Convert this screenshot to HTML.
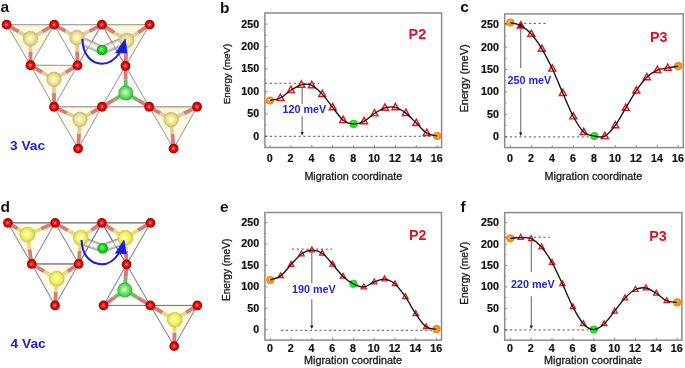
<!DOCTYPE html>
<html><head><meta charset="utf-8"><style>html,body{margin:0;padding:0;background:#fff;overflow:hidden}svg{display:block;filter:blur(0.4px)}text{font-family:"Liberation Sans",sans-serif}</style></head>
<body>
<svg width="685" height="368" viewBox="0 0 685 368">
<defs>
<radialGradient id="gRed" cx="0.5" cy="0.5" r="0.5" fx="0.47" fy="0.5"><stop offset="0" stop-color="#ffb8b0"/><stop offset="0.3" stop-color="#f02828"/><stop offset="0.72" stop-color="#d20000"/><stop offset="1" stop-color="#900000"/></radialGradient>
<radialGradient id="gYa" cx="0.5" cy="0.5" r="0.5" fx="0.47" fy="0.5"><stop offset="0" stop-color="#fffee4"/><stop offset="0.35" stop-color="#f8f0a8"/><stop offset="0.75" stop-color="#e4d688"/><stop offset="1" stop-color="#c4b266"/></radialGradient>
<radialGradient id="gYd" cx="0.5" cy="0.5" r="0.5" fx="0.45" fy="0.45"><stop offset="0" stop-color="#ffffe8"/><stop offset="0.3" stop-color="#fafa90"/><stop offset="0.72" stop-color="#ecea58"/><stop offset="1" stop-color="#c8c238"/></radialGradient>
<radialGradient id="gGb" cx="0.5" cy="0.5" r="0.5" fx="0.45" fy="0.45"><stop offset="0" stop-color="#e4ffe4"/><stop offset="0.3" stop-color="#98f098"/><stop offset="0.72" stop-color="#5ad85a"/><stop offset="1" stop-color="#34a834"/></radialGradient>
<radialGradient id="gGs" cx="0.5" cy="0.5" r="0.5" fx="0.42" fy="0.4"><stop offset="0" stop-color="#b8ffb8"/><stop offset="0.3" stop-color="#44e844"/><stop offset="0.72" stop-color="#14c814"/><stop offset="1" stop-color="#078a07"/></radialGradient>
<linearGradient id="fA" x1="0" y1="0" x2="0" y2="1"><stop offset="0" stop-color="#f9f5d8"/><stop offset="0.6" stop-color="#fcf9e6"/><stop offset="1" stop-color="#fefdf6"/></linearGradient>
<linearGradient id="fB" x1="0" y1="0" x2="0" y2="1"><stop offset="0" stop-color="#fcf9e6"/><stop offset="1" stop-color="#fffefa"/></linearGradient>
<linearGradient id="fD" x1="0" y1="0" x2="0" y2="1"><stop offset="0" stop-color="#fcfbea"/><stop offset="1" stop-color="#fffffc"/></linearGradient>
<radialGradient id="gOr" cx="0.5" cy="0.5" r="0.5" fx="0.42" fy="0.42"><stop offset="0" stop-color="#ffe0b0"/><stop offset="0.35" stop-color="#f8a030"/><stop offset="1" stop-color="#e88410"/></radialGradient>
<radialGradient id="gGr" cx="0.5" cy="0.5" r="0.5" fx="0.42" fy="0.42"><stop offset="0" stop-color="#b0ffb0"/><stop offset="0.35" stop-color="#38e838"/><stop offset="1" stop-color="#20cc20"/></radialGradient>
</defs>
<rect width="685" height="368" fill="#fff"/>
<g transform="translate(0,0.45)">
<polygon points="6.60,24.20 54.20,24.20 30.50,64.80" fill="url(#fA)" stroke="none"/>
<polygon points="54.20,24.20 101.90,24.20 77.50,65.00" fill="#fefdf8" stroke="none"/>
<polygon points="101.90,24.20 149.70,24.20 125.50,65.50" fill="url(#fA)" stroke="none"/>
<polygon points="30.50,64.80 77.50,65.00 54.00,106.30" fill="url(#fB)" stroke="none"/>
<polygon points="54.00,106.30 102.00,106.30 78.10,148.10" fill="url(#fB)" stroke="none"/>
<polygon points="149.20,106.40 197.20,106.40 173.60,148.10" fill="url(#fA)" stroke="none"/>
<polygon points="6.60,24.20 54.20,24.20 30.50,64.80" fill="none" stroke="#7a7a70" stroke-width="0.8"/>
<polygon points="54.20,24.20 101.90,24.20 77.50,65.00" fill="none" stroke="#7a7a70" stroke-width="0.8"/>
<polygon points="101.90,24.20 149.70,24.20 125.50,65.50" fill="none" stroke="#7a7a70" stroke-width="0.8"/>
<polygon points="30.50,64.80 77.50,65.00 54.00,106.30" fill="none" stroke="#7a7a70" stroke-width="0.8"/>
<polygon points="54.00,106.30 102.00,106.30 78.10,148.10" fill="none" stroke="#7a7a70" stroke-width="0.8"/>
<polygon points="125.50,65.50 102.00,106.30 149.20,106.30" fill="none" stroke="#7a7a70" stroke-width="0.8"/>
<polygon points="149.20,106.40 197.20,106.40 173.60,148.10" fill="none" stroke="#7a7a70" stroke-width="0.8"/>
<line x1="6.60" y1="24.20" x2="149.70" y2="24.20" stroke="#aaa9a2" stroke-width="0.9"/>
<line x1="30.50" y1="64.80" x2="77.50" y2="65.00" stroke="#aaa9a2" stroke-width="0.9"/>
<line x1="54.00" y1="106.30" x2="197.10" y2="106.30" stroke="#aaa9a2" stroke-width="0.9"/>
<line x1="30.40" y1="38.10" x2="18.50" y2="31.15" stroke="#dccf98" stroke-width="3.8"/>
<line x1="18.50" y1="31.15" x2="6.60" y2="24.20" stroke="#d87a7a" stroke-width="3.8"/>
<line x1="30.40" y1="38.10" x2="42.30" y2="31.15" stroke="#dccf98" stroke-width="3.8"/>
<line x1="42.30" y1="31.15" x2="54.20" y2="24.20" stroke="#d87a7a" stroke-width="3.8"/>
<line x1="30.40" y1="38.10" x2="30.45" y2="51.45" stroke="#dccf98" stroke-width="3.8"/>
<line x1="30.45" y1="51.45" x2="30.50" y2="64.80" stroke="#d87a7a" stroke-width="3.8"/>
<line x1="77.00" y1="37.20" x2="65.60" y2="30.70" stroke="#dccf98" stroke-width="3.8"/>
<line x1="65.60" y1="30.70" x2="54.20" y2="24.20" stroke="#d87a7a" stroke-width="3.8"/>
<line x1="77.00" y1="37.20" x2="89.45" y2="30.70" stroke="#dccf98" stroke-width="3.8"/>
<line x1="89.45" y1="30.70" x2="101.90" y2="24.20" stroke="#d87a7a" stroke-width="3.8"/>
<line x1="77.00" y1="37.20" x2="77.25" y2="51.10" stroke="#dccf98" stroke-width="3.8"/>
<line x1="77.25" y1="51.10" x2="77.50" y2="65.00" stroke="#d87a7a" stroke-width="3.8"/>
<line x1="126.80" y1="40.00" x2="114.35" y2="32.10" stroke="#dccf98" stroke-width="3.8"/>
<line x1="114.35" y1="32.10" x2="101.90" y2="24.20" stroke="#d87a7a" stroke-width="3.8"/>
<line x1="126.80" y1="40.00" x2="138.25" y2="32.10" stroke="#dccf98" stroke-width="3.8"/>
<line x1="138.25" y1="32.10" x2="149.70" y2="24.20" stroke="#d87a7a" stroke-width="3.8"/>
<line x1="126.80" y1="40.00" x2="126.15" y2="52.75" stroke="#dccf98" stroke-width="3.8"/>
<line x1="126.15" y1="52.75" x2="125.50" y2="65.50" stroke="#d87a7a" stroke-width="3.8"/>
<line x1="54.00" y1="79.00" x2="42.25" y2="71.90" stroke="#dccf98" stroke-width="3.8"/>
<line x1="42.25" y1="71.90" x2="30.50" y2="64.80" stroke="#d87a7a" stroke-width="3.8"/>
<line x1="54.00" y1="79.00" x2="65.75" y2="72.00" stroke="#dccf98" stroke-width="3.8"/>
<line x1="65.75" y1="72.00" x2="77.50" y2="65.00" stroke="#d87a7a" stroke-width="3.8"/>
<line x1="54.00" y1="79.00" x2="54.00" y2="92.65" stroke="#dccf98" stroke-width="3.8"/>
<line x1="54.00" y1="92.65" x2="54.00" y2="106.30" stroke="#d87a7a" stroke-width="3.8"/>
<line x1="80.00" y1="119.00" x2="67.00" y2="112.65" stroke="#dccf98" stroke-width="3.8"/>
<line x1="67.00" y1="112.65" x2="54.00" y2="106.30" stroke="#d87a7a" stroke-width="3.8"/>
<line x1="80.00" y1="119.00" x2="91.00" y2="112.65" stroke="#dccf98" stroke-width="3.8"/>
<line x1="91.00" y1="112.65" x2="102.00" y2="106.30" stroke="#d87a7a" stroke-width="3.8"/>
<line x1="80.00" y1="119.00" x2="79.05" y2="133.55" stroke="#dccf98" stroke-width="3.8"/>
<line x1="79.05" y1="133.55" x2="78.10" y2="148.10" stroke="#d87a7a" stroke-width="3.8"/>
<line x1="125.80" y1="92.50" x2="125.65" y2="79.00" stroke="#62c462" stroke-width="3.8"/>
<line x1="125.65" y1="79.00" x2="125.50" y2="65.50" stroke="#d87a7a" stroke-width="3.8"/>
<line x1="125.80" y1="92.50" x2="113.90" y2="99.40" stroke="#62c462" stroke-width="3.8"/>
<line x1="113.90" y1="99.40" x2="102.00" y2="106.30" stroke="#d87a7a" stroke-width="3.8"/>
<line x1="125.80" y1="92.50" x2="137.50" y2="99.40" stroke="#62c462" stroke-width="3.8"/>
<line x1="137.50" y1="99.40" x2="149.20" y2="106.30" stroke="#d87a7a" stroke-width="3.8"/>
<line x1="171.20" y1="119.10" x2="160.20" y2="112.75" stroke="#dccf98" stroke-width="3.8"/>
<line x1="160.20" y1="112.75" x2="149.20" y2="106.40" stroke="#d87a7a" stroke-width="3.8"/>
<line x1="171.20" y1="119.10" x2="184.20" y2="112.75" stroke="#dccf98" stroke-width="3.8"/>
<line x1="184.20" y1="112.75" x2="197.20" y2="106.40" stroke="#d87a7a" stroke-width="3.8"/>
<line x1="171.20" y1="119.10" x2="172.40" y2="133.60" stroke="#dccf98" stroke-width="3.8"/>
<line x1="172.40" y1="133.60" x2="173.60" y2="148.10" stroke="#d87a7a" stroke-width="3.8"/>
<polyline points="83.50,41.20 102.00,49.60 121.00,41.80" fill="none" stroke="#a0a0a0" stroke-width="8.4" stroke-linejoin="round"/>
<polyline points="83.50,41.20 102.00,49.60 121.00,41.80" fill="none" stroke="#c8c8c8" stroke-width="6.6" stroke-linejoin="round"/>
<polyline points="83.50,41.20 102.00,49.60 121.00,41.80" fill="none" stroke="#e8e8e8" stroke-width="4.4" stroke-linejoin="round"/>
<polyline points="83.50,41.20 102.00,49.60 121.00,41.80" fill="none" stroke="#fcfcfc" stroke-width="2.0" stroke-linejoin="round"/>
<line x1="101.90" y1="24.20" x2="77.50" y2="65.00" stroke="#7a7a70" stroke-width="0.8" stroke-opacity="0.7"/>
<line x1="101.90" y1="24.20" x2="125.50" y2="65.50" stroke="#7a7a70" stroke-width="0.8" stroke-opacity="0.7"/>
<circle cx="30.40" cy="38.10" r="7.60" fill="url(#gYa)"/>
<circle cx="77.00" cy="37.20" r="7.60" fill="url(#gYa)"/>
<circle cx="126.80" cy="40.00" r="7.60" fill="url(#gYa)"/>
<circle cx="54.00" cy="79.00" r="7.60" fill="url(#gYa)"/>
<circle cx="80.00" cy="119.00" r="7.60" fill="url(#gYa)"/>
<circle cx="125.80" cy="92.50" r="7.50" fill="url(#gGb)"/>
<circle cx="171.20" cy="119.10" r="7.60" fill="url(#gYa)"/>
<circle cx="102.00" cy="49.60" r="5.30" fill="url(#gGs)"/>
<circle cx="6.60" cy="24.20" r="4.90" fill="url(#gRed)"/>
<circle cx="54.20" cy="24.20" r="4.90" fill="url(#gRed)"/>
<circle cx="101.90" cy="24.20" r="4.90" fill="url(#gRed)"/>
<circle cx="149.70" cy="24.20" r="4.90" fill="url(#gRed)"/>
<circle cx="30.50" cy="64.80" r="4.90" fill="url(#gRed)"/>
<circle cx="77.50" cy="65.00" r="4.90" fill="url(#gRed)"/>
<circle cx="125.50" cy="65.50" r="4.90" fill="url(#gRed)"/>
<circle cx="54.00" cy="106.30" r="4.90" fill="url(#gRed)"/>
<circle cx="102.00" cy="106.30" r="4.90" fill="url(#gRed)"/>
<circle cx="149.20" cy="106.30" r="4.90" fill="url(#gRed)"/>
<circle cx="197.10" cy="106.30" r="4.90" fill="url(#gRed)"/>
<circle cx="78.10" cy="148.10" r="4.90" fill="url(#gRed)"/>
<circle cx="173.60" cy="148.10" r="4.90" fill="url(#gRed)"/>
<path d="M82.4,38.4 C82.6,55 92,63.2 102,63.2 C109,63.2 115,59 119.5,52.5" fill="none" stroke="#1a1ae6" stroke-width="2"/><path d="M125.3,38.2 L115.5,52.6 L127,52.6 Z" fill="#1a1ae6" stroke="#1a1ae6" stroke-width="0.6" stroke-linejoin="round"/>
<text x="0.50" y="12.00" font-size="15.5" font-weight="bold" fill="#111" font-family="Liberation Sans, sans-serif">a</text>
<text x="10.00" y="149.50" font-size="13.7" font-weight="bold" fill="#2222cc" font-family="Liberation Sans, sans-serif">3 Vac</text>
<polygon points="7.80,222.40 55.00,222.40 31.70,263.50" fill="url(#fD)" stroke="none"/>
<polygon points="55.00,222.40 101.90,222.40 78.70,263.50" fill="#fefefa" stroke="none"/>
<polygon points="101.90,222.40 150.50,222.40 126.60,264.00" fill="url(#fD)" stroke="none"/>
<polygon points="31.70,263.50 78.70,263.50 55.00,305.00" fill="url(#fD)" stroke="none"/>
<polygon points="150.30,305.00 197.30,305.00 174.20,345.70" fill="url(#fD)" stroke="none"/>
<polygon points="7.80,222.40 55.00,222.40 31.70,263.50" fill="none" stroke="#555" stroke-width="0.8"/>
<polygon points="55.00,222.40 101.90,222.40 78.70,263.50" fill="none" stroke="#555" stroke-width="0.8"/>
<polygon points="101.90,222.40 150.50,222.40 126.60,264.00" fill="none" stroke="#555" stroke-width="0.8"/>
<polygon points="31.70,263.50 78.70,263.50 55.00,305.00" fill="none" stroke="#555" stroke-width="0.8"/>
<polygon points="126.60,264.00 103.60,305.00 150.30,305.00" fill="none" stroke="#555" stroke-width="0.8"/>
<polygon points="150.30,305.00 197.30,305.00 174.20,345.70" fill="none" stroke="#555" stroke-width="0.8"/>
<line x1="7.80" y1="222.40" x2="150.50" y2="222.40" stroke="#777" stroke-width="0.9"/>
<line x1="31.70" y1="263.50" x2="78.70" y2="263.50" stroke="#777" stroke-width="0.9"/>
<line x1="103.60" y1="305.00" x2="197.30" y2="305.00" stroke="#777" stroke-width="0.9"/>
<line x1="27.30" y1="234.10" x2="17.55" y2="228.25" stroke="#e4de74" stroke-width="3.8"/>
<line x1="17.55" y1="228.25" x2="7.80" y2="222.40" stroke="#d87a7a" stroke-width="3.8"/>
<line x1="27.30" y1="234.10" x2="41.15" y2="228.25" stroke="#e4de74" stroke-width="3.8"/>
<line x1="41.15" y1="228.25" x2="55.00" y2="222.40" stroke="#d87a7a" stroke-width="3.8"/>
<line x1="27.30" y1="234.10" x2="29.50" y2="248.80" stroke="#e4de74" stroke-width="3.8"/>
<line x1="29.50" y1="248.80" x2="31.70" y2="263.50" stroke="#d87a7a" stroke-width="3.8"/>
<line x1="80.80" y1="237.30" x2="67.90" y2="229.85" stroke="#e4de74" stroke-width="3.8"/>
<line x1="67.90" y1="229.85" x2="55.00" y2="222.40" stroke="#d87a7a" stroke-width="3.8"/>
<line x1="80.80" y1="237.30" x2="91.35" y2="229.85" stroke="#e4de74" stroke-width="3.8"/>
<line x1="91.35" y1="229.85" x2="101.90" y2="222.40" stroke="#d87a7a" stroke-width="3.8"/>
<line x1="80.80" y1="237.30" x2="79.75" y2="250.40" stroke="#e4de74" stroke-width="3.8"/>
<line x1="79.75" y1="250.40" x2="78.70" y2="263.50" stroke="#d87a7a" stroke-width="3.8"/>
<line x1="125.20" y1="237.30" x2="113.55" y2="229.85" stroke="#e4de74" stroke-width="3.8"/>
<line x1="113.55" y1="229.85" x2="101.90" y2="222.40" stroke="#d87a7a" stroke-width="3.8"/>
<line x1="125.20" y1="237.30" x2="137.85" y2="229.85" stroke="#e4de74" stroke-width="3.8"/>
<line x1="137.85" y1="229.85" x2="150.50" y2="222.40" stroke="#d87a7a" stroke-width="3.8"/>
<line x1="125.20" y1="237.30" x2="125.90" y2="250.65" stroke="#e4de74" stroke-width="3.8"/>
<line x1="125.90" y1="250.65" x2="126.60" y2="264.00" stroke="#d87a7a" stroke-width="3.8"/>
<line x1="56.70" y1="278.20" x2="44.20" y2="270.85" stroke="#e4de74" stroke-width="3.8"/>
<line x1="44.20" y1="270.85" x2="31.70" y2="263.50" stroke="#d87a7a" stroke-width="3.8"/>
<line x1="56.70" y1="278.20" x2="67.70" y2="270.85" stroke="#e4de74" stroke-width="3.8"/>
<line x1="67.70" y1="270.85" x2="78.70" y2="263.50" stroke="#d87a7a" stroke-width="3.8"/>
<line x1="56.70" y1="278.20" x2="55.85" y2="291.60" stroke="#e4de74" stroke-width="3.8"/>
<line x1="55.85" y1="291.60" x2="55.00" y2="305.00" stroke="#d87a7a" stroke-width="3.8"/>
<line x1="124.80" y1="289.50" x2="125.70" y2="276.75" stroke="#62c462" stroke-width="3.8"/>
<line x1="125.70" y1="276.75" x2="126.60" y2="264.00" stroke="#d87a7a" stroke-width="3.8"/>
<line x1="124.80" y1="289.50" x2="114.20" y2="297.25" stroke="#62c462" stroke-width="3.8"/>
<line x1="114.20" y1="297.25" x2="103.60" y2="305.00" stroke="#d87a7a" stroke-width="3.8"/>
<line x1="124.80" y1="289.50" x2="137.55" y2="297.25" stroke="#62c462" stroke-width="3.8"/>
<line x1="137.55" y1="297.25" x2="150.30" y2="305.00" stroke="#d87a7a" stroke-width="3.8"/>
<line x1="174.80" y1="319.30" x2="162.55" y2="312.15" stroke="#e4de74" stroke-width="3.8"/>
<line x1="162.55" y1="312.15" x2="150.30" y2="305.00" stroke="#d87a7a" stroke-width="3.8"/>
<line x1="174.80" y1="319.30" x2="186.05" y2="312.15" stroke="#e4de74" stroke-width="3.8"/>
<line x1="186.05" y1="312.15" x2="197.30" y2="305.00" stroke="#d87a7a" stroke-width="3.8"/>
<line x1="174.80" y1="319.30" x2="174.50" y2="332.50" stroke="#e4de74" stroke-width="3.8"/>
<line x1="174.50" y1="332.50" x2="174.20" y2="345.70" stroke="#d87a7a" stroke-width="3.8"/>
<polyline points="83.00,240.80 102.60,247.80 122.00,240.80" fill="none" stroke="#a0a0a0" stroke-width="8.4" stroke-linejoin="round"/>
<polyline points="83.00,240.80 102.60,247.80 122.00,240.80" fill="none" stroke="#c8c8c8" stroke-width="6.6" stroke-linejoin="round"/>
<polyline points="83.00,240.80 102.60,247.80 122.00,240.80" fill="none" stroke="#e8e8e8" stroke-width="4.4" stroke-linejoin="round"/>
<polyline points="83.00,240.80 102.60,247.80 122.00,240.80" fill="none" stroke="#fcfcfc" stroke-width="2.0" stroke-linejoin="round"/>
<line x1="101.90" y1="222.50" x2="78.70" y2="263.50" stroke="#555" stroke-width="0.8" stroke-opacity="0.7"/>
<line x1="101.90" y1="222.50" x2="126.60" y2="264.00" stroke="#555" stroke-width="0.8" stroke-opacity="0.7"/>
<circle cx="27.30" cy="234.10" r="7.80" fill="url(#gYd)"/>
<circle cx="80.80" cy="237.30" r="7.80" fill="url(#gYd)"/>
<circle cx="125.20" cy="237.30" r="7.80" fill="url(#gYd)"/>
<circle cx="56.70" cy="278.20" r="7.80" fill="url(#gYd)"/>
<circle cx="124.80" cy="289.50" r="7.50" fill="url(#gGb)"/>
<circle cx="174.80" cy="319.30" r="7.80" fill="url(#gYd)"/>
<circle cx="102.70" cy="247.80" r="5.30" fill="url(#gGs)"/>
<circle cx="7.90" cy="222.40" r="4.85" fill="url(#gRed)"/>
<circle cx="55.20" cy="222.40" r="4.85" fill="url(#gRed)"/>
<circle cx="101.90" cy="222.40" r="4.85" fill="url(#gRed)"/>
<circle cx="150.50" cy="222.40" r="4.85" fill="url(#gRed)"/>
<circle cx="31.70" cy="263.50" r="4.85" fill="url(#gRed)"/>
<circle cx="78.70" cy="263.50" r="4.85" fill="url(#gRed)"/>
<circle cx="126.60" cy="264.00" r="4.85" fill="url(#gRed)"/>
<circle cx="55.00" cy="305.00" r="4.85" fill="url(#gRed)"/>
<circle cx="103.60" cy="305.00" r="4.85" fill="url(#gRed)"/>
<circle cx="150.30" cy="305.00" r="4.85" fill="url(#gRed)"/>
<circle cx="197.30" cy="305.00" r="4.85" fill="url(#gRed)"/>
<circle cx="174.20" cy="345.70" r="4.85" fill="url(#gRed)"/>
<path d="M81.6,239.6 C81.8,256 92,263.8 102,263.8 C109,263.8 114.5,259.5 118.5,253.3" fill="none" stroke="#1a1ae6" stroke-width="2"/><path d="M124,239.6 L115.3,252.8 L126.4,253.6 Z" fill="#1a1ae6" stroke="#1a1ae6" stroke-width="0.6" stroke-linejoin="round"/>
<text x="0.50" y="211.30" font-size="15.5" font-weight="bold" fill="#111" font-family="Liberation Sans, sans-serif">d</text>
<text x="10.60" y="347.90" font-size="13.7" font-weight="bold" fill="#2222cc" font-family="Liberation Sans, sans-serif">4 Vac</text>
</g>
<rect x="264.90" y="13.00" width="176.70" height="134.50" fill="none" stroke="#8c8c8c" stroke-width="1.5"/>
<line x1="264.90" y1="136.20" x2="267.50" y2="136.20" stroke="#8c8c8c" stroke-width="1"/>
<text transform="translate(259.10,139.60) scale(1.07,1)" font-size="10" font-weight="bold" text-anchor="end" fill="#111" stroke="#111" stroke-width="0.2" font-family="Liberation Sans, sans-serif">0</text>
<line x1="264.90" y1="125.00" x2="266.50" y2="125.00" stroke="#8c8c8c" stroke-width="1"/>
<line x1="264.90" y1="113.80" x2="267.50" y2="113.80" stroke="#8c8c8c" stroke-width="1"/>
<text transform="translate(259.10,117.20) scale(1.07,1)" font-size="10" font-weight="bold" text-anchor="end" fill="#111" stroke="#111" stroke-width="0.2" font-family="Liberation Sans, sans-serif">50</text>
<line x1="264.90" y1="102.60" x2="266.50" y2="102.60" stroke="#8c8c8c" stroke-width="1"/>
<line x1="264.90" y1="91.40" x2="267.50" y2="91.40" stroke="#8c8c8c" stroke-width="1"/>
<text transform="translate(259.10,94.80) scale(1.07,1)" font-size="10" font-weight="bold" text-anchor="end" fill="#111" stroke="#111" stroke-width="0.2" font-family="Liberation Sans, sans-serif">100</text>
<line x1="264.90" y1="80.20" x2="266.50" y2="80.20" stroke="#8c8c8c" stroke-width="1"/>
<line x1="264.90" y1="69.00" x2="267.50" y2="69.00" stroke="#8c8c8c" stroke-width="1"/>
<text transform="translate(259.10,72.40) scale(1.07,1)" font-size="10" font-weight="bold" text-anchor="end" fill="#111" stroke="#111" stroke-width="0.2" font-family="Liberation Sans, sans-serif">150</text>
<line x1="264.90" y1="57.80" x2="266.50" y2="57.80" stroke="#8c8c8c" stroke-width="1"/>
<line x1="264.90" y1="46.60" x2="267.50" y2="46.60" stroke="#8c8c8c" stroke-width="1"/>
<text transform="translate(259.10,50.00) scale(1.07,1)" font-size="10" font-weight="bold" text-anchor="end" fill="#111" stroke="#111" stroke-width="0.2" font-family="Liberation Sans, sans-serif">200</text>
<line x1="264.90" y1="35.40" x2="266.50" y2="35.40" stroke="#8c8c8c" stroke-width="1"/>
<line x1="264.90" y1="24.20" x2="267.50" y2="24.20" stroke="#8c8c8c" stroke-width="1"/>
<text transform="translate(259.10,27.60) scale(1.07,1)" font-size="10" font-weight="bold" text-anchor="end" fill="#111" stroke="#111" stroke-width="0.2" font-family="Liberation Sans, sans-serif">250</text>
<line x1="270.00" y1="147.50" x2="270.00" y2="145.10" stroke="#8c8c8c" stroke-width="1"/>
<text transform="translate(269.60,161.60) scale(1.07,1)" font-size="10" font-weight="bold" text-anchor="middle" fill="#111" stroke="#111" stroke-width="0.2" font-family="Liberation Sans, sans-serif">0</text>
<line x1="290.90" y1="147.50" x2="290.90" y2="145.10" stroke="#8c8c8c" stroke-width="1"/>
<text transform="translate(290.50,161.60) scale(1.07,1)" font-size="10" font-weight="bold" text-anchor="middle" fill="#111" stroke="#111" stroke-width="0.2" font-family="Liberation Sans, sans-serif">2</text>
<line x1="311.80" y1="147.50" x2="311.80" y2="145.10" stroke="#8c8c8c" stroke-width="1"/>
<text transform="translate(311.40,161.60) scale(1.07,1)" font-size="10" font-weight="bold" text-anchor="middle" fill="#111" stroke="#111" stroke-width="0.2" font-family="Liberation Sans, sans-serif">4</text>
<line x1="332.70" y1="147.50" x2="332.70" y2="145.10" stroke="#8c8c8c" stroke-width="1"/>
<text transform="translate(332.30,161.60) scale(1.07,1)" font-size="10" font-weight="bold" text-anchor="middle" fill="#111" stroke="#111" stroke-width="0.2" font-family="Liberation Sans, sans-serif">6</text>
<line x1="353.60" y1="147.50" x2="353.60" y2="145.10" stroke="#8c8c8c" stroke-width="1"/>
<text transform="translate(353.20,161.60) scale(1.07,1)" font-size="10" font-weight="bold" text-anchor="middle" fill="#111" stroke="#111" stroke-width="0.2" font-family="Liberation Sans, sans-serif">8</text>
<line x1="374.50" y1="147.50" x2="374.50" y2="145.10" stroke="#8c8c8c" stroke-width="1"/>
<text transform="translate(374.10,161.60) scale(1.07,1)" font-size="10" font-weight="bold" text-anchor="middle" fill="#111" stroke="#111" stroke-width="0.2" font-family="Liberation Sans, sans-serif">10</text>
<line x1="395.40" y1="147.50" x2="395.40" y2="145.10" stroke="#8c8c8c" stroke-width="1"/>
<text transform="translate(395.00,161.60) scale(1.07,1)" font-size="10" font-weight="bold" text-anchor="middle" fill="#111" stroke="#111" stroke-width="0.2" font-family="Liberation Sans, sans-serif">12</text>
<line x1="416.30" y1="147.50" x2="416.30" y2="145.10" stroke="#8c8c8c" stroke-width="1"/>
<text transform="translate(415.90,161.60) scale(1.07,1)" font-size="10" font-weight="bold" text-anchor="middle" fill="#111" stroke="#111" stroke-width="0.2" font-family="Liberation Sans, sans-serif">14</text>
<line x1="437.20" y1="147.50" x2="437.20" y2="145.10" stroke="#8c8c8c" stroke-width="1"/>
<text transform="translate(436.80,161.60) scale(1.07,1)" font-size="10" font-weight="bold" text-anchor="middle" fill="#111" stroke="#111" stroke-width="0.2" font-family="Liberation Sans, sans-serif">16</text>
<line x1="265.00" y1="83.30" x2="319.00" y2="83.30" stroke="#444" stroke-width="0.9" stroke-dasharray="2.2,2.6"/>
<line x1="265.00" y1="136.30" x2="441.00" y2="136.30" stroke="#444" stroke-width="0.9" stroke-dasharray="2.2,2.6"/>
<text x="353.30" y="180.10" font-size="10.8" text-anchor="middle" fill="#1a1a1a" stroke="#1a1a1a" stroke-width="0.3" font-family="Liberation Sans, sans-serif">Migration coordinate</text>
<text transform="translate(229.50,74.05) rotate(-90)" font-size="9.8" text-anchor="middle" fill="#1a1a1a" stroke="#1a1a1a" stroke-width="0.3" font-family="Liberation Sans, sans-serif">Energy (meV)</text>
<line x1="302.20" y1="85.00" x2="302.20" y2="104.00" stroke="#7c7c7c" stroke-width="1.2"/>
<line x1="302.20" y1="116.20" x2="302.20" y2="133.20" stroke="#7c7c7c" stroke-width="1.2"/>
<path d="M302.20,135.60 l-1.6,-3.6 l3.2,0 z" fill="#111"/>
<circle cx="270.00" cy="100.50" r="4.1" fill="url(#gOr)"/>
<path d="M280.45,94.00 L283.95,100.40 L276.95,100.40 Z" fill="#fff4f4" stroke="#e01818" stroke-width="1.40" stroke-linejoin="miter"/>
<path d="M290.90,86.20 L294.40,92.60 L287.40,92.60 Z" fill="#fff4f4" stroke="#e01818" stroke-width="1.40" stroke-linejoin="miter"/>
<path d="M301.35,80.80 L304.85,87.20 L297.85,87.20 Z" fill="#fff4f4" stroke="#e01818" stroke-width="1.40" stroke-linejoin="miter"/>
<path d="M311.80,81.30 L315.30,87.70 L308.30,87.70 Z" fill="#fff4f4" stroke="#e01818" stroke-width="1.40" stroke-linejoin="miter"/>
<path d="M322.25,90.10 L325.75,96.50 L318.75,96.50 Z" fill="#fff4f4" stroke="#e01818" stroke-width="1.40" stroke-linejoin="miter"/>
<path d="M332.70,103.40 L336.20,109.80 L329.20,109.80 Z" fill="#fff4f4" stroke="#e01818" stroke-width="1.40" stroke-linejoin="miter"/>
<path d="M343.15,116.20 L346.65,122.60 L339.65,122.60 Z" fill="#fff4f4" stroke="#e01818" stroke-width="1.40" stroke-linejoin="miter"/>
<circle cx="353.60" cy="123.90" r="4.1" fill="url(#gGr)"/>
<path d="M364.05,117.30 L367.55,123.70 L360.55,123.70 Z" fill="#fff4f4" stroke="#e01818" stroke-width="1.40" stroke-linejoin="miter"/>
<path d="M374.50,109.50 L378.00,115.90 L371.00,115.90 Z" fill="#fff4f4" stroke="#e01818" stroke-width="1.40" stroke-linejoin="miter"/>
<path d="M384.95,103.80 L388.45,110.20 L381.45,110.20 Z" fill="#fff4f4" stroke="#e01818" stroke-width="1.40" stroke-linejoin="miter"/>
<path d="M395.40,103.30 L398.90,109.70 L391.90,109.70 Z" fill="#fff4f4" stroke="#e01818" stroke-width="1.40" stroke-linejoin="miter"/>
<path d="M405.85,109.10 L409.35,115.50 L402.35,115.50 Z" fill="#fff4f4" stroke="#e01818" stroke-width="1.40" stroke-linejoin="miter"/>
<path d="M416.30,119.10 L419.80,125.50 L412.80,125.50 Z" fill="#fff4f4" stroke="#e01818" stroke-width="1.40" stroke-linejoin="miter"/>
<path d="M426.75,129.10 L430.25,135.50 L423.25,135.50 Z" fill="#fff4f4" stroke="#e01818" stroke-width="1.40" stroke-linejoin="miter"/>
<circle cx="437.20" cy="136.00" r="4.1" fill="url(#gOr)"/>
<path d="M270.00,100.50 C273.48,99.67 276.97,99.72 280.45,98.00 C283.93,96.28 287.42,92.40 290.90,90.20 C294.38,88.00 297.87,85.62 301.35,84.80 C304.83,83.98 308.32,83.75 311.80,85.30 C315.28,86.85 318.77,90.42 322.25,94.10 C325.73,97.78 329.22,103.05 332.70,107.40 C336.18,111.75 339.67,117.45 343.15,120.20 C346.63,122.95 350.12,123.72 353.60,123.90 C357.08,124.08 360.57,123.03 364.05,121.30 C367.53,119.57 371.02,115.75 374.50,113.50 C377.98,111.25 381.47,108.83 384.95,107.80 C388.43,106.77 391.92,106.42 395.40,107.30 C398.88,108.18 402.37,110.47 405.85,113.10 C409.33,115.73 412.82,119.77 416.30,123.10 C419.78,126.43 423.27,130.95 426.75,133.10 C430.23,135.25 433.72,135.03 437.20,136.00" fill="none" stroke="#141414" stroke-width="1.35"/>
<text x="408.60" y="39.30" font-size="14.3" font-weight="bold" fill="#dc1428" font-family="Liberation Sans, sans-serif">P2</text>
<text x="282.40" y="113.30" font-size="10.8" font-weight="bold" fill="#2424d8" font-family="Liberation Sans, sans-serif">120 meV</text>
<rect x="504.70" y="13.90" width="178.60" height="133.70" fill="none" stroke="#8c8c8c" stroke-width="1.5"/>
<line x1="504.70" y1="136.70" x2="507.30" y2="136.70" stroke="#8c8c8c" stroke-width="1"/>
<text transform="translate(498.90,140.10) scale(1.07,1)" font-size="10" font-weight="bold" text-anchor="end" fill="#111" stroke="#111" stroke-width="0.2" font-family="Liberation Sans, sans-serif">0</text>
<line x1="504.70" y1="125.50" x2="506.30" y2="125.50" stroke="#8c8c8c" stroke-width="1"/>
<line x1="504.70" y1="114.30" x2="507.30" y2="114.30" stroke="#8c8c8c" stroke-width="1"/>
<text transform="translate(498.90,117.70) scale(1.07,1)" font-size="10" font-weight="bold" text-anchor="end" fill="#111" stroke="#111" stroke-width="0.2" font-family="Liberation Sans, sans-serif">50</text>
<line x1="504.70" y1="103.10" x2="506.30" y2="103.10" stroke="#8c8c8c" stroke-width="1"/>
<line x1="504.70" y1="91.90" x2="507.30" y2="91.90" stroke="#8c8c8c" stroke-width="1"/>
<text transform="translate(498.90,95.30) scale(1.07,1)" font-size="10" font-weight="bold" text-anchor="end" fill="#111" stroke="#111" stroke-width="0.2" font-family="Liberation Sans, sans-serif">100</text>
<line x1="504.70" y1="80.70" x2="506.30" y2="80.70" stroke="#8c8c8c" stroke-width="1"/>
<line x1="504.70" y1="69.50" x2="507.30" y2="69.50" stroke="#8c8c8c" stroke-width="1"/>
<text transform="translate(498.90,72.90) scale(1.07,1)" font-size="10" font-weight="bold" text-anchor="end" fill="#111" stroke="#111" stroke-width="0.2" font-family="Liberation Sans, sans-serif">150</text>
<line x1="504.70" y1="58.30" x2="506.30" y2="58.30" stroke="#8c8c8c" stroke-width="1"/>
<line x1="504.70" y1="47.10" x2="507.30" y2="47.10" stroke="#8c8c8c" stroke-width="1"/>
<text transform="translate(498.90,50.50) scale(1.07,1)" font-size="10" font-weight="bold" text-anchor="end" fill="#111" stroke="#111" stroke-width="0.2" font-family="Liberation Sans, sans-serif">200</text>
<line x1="504.70" y1="35.90" x2="506.30" y2="35.90" stroke="#8c8c8c" stroke-width="1"/>
<line x1="504.70" y1="24.70" x2="507.30" y2="24.70" stroke="#8c8c8c" stroke-width="1"/>
<text transform="translate(498.90,28.10) scale(1.07,1)" font-size="10" font-weight="bold" text-anchor="end" fill="#111" stroke="#111" stroke-width="0.2" font-family="Liberation Sans, sans-serif">250</text>
<line x1="510.30" y1="147.60" x2="510.30" y2="145.20" stroke="#8c8c8c" stroke-width="1"/>
<text transform="translate(509.90,161.80) scale(1.07,1)" font-size="10" font-weight="bold" text-anchor="middle" fill="#111" stroke="#111" stroke-width="0.2" font-family="Liberation Sans, sans-serif">0</text>
<line x1="531.30" y1="147.60" x2="531.30" y2="145.20" stroke="#8c8c8c" stroke-width="1"/>
<text transform="translate(530.90,161.80) scale(1.07,1)" font-size="10" font-weight="bold" text-anchor="middle" fill="#111" stroke="#111" stroke-width="0.2" font-family="Liberation Sans, sans-serif">2</text>
<line x1="552.30" y1="147.60" x2="552.30" y2="145.20" stroke="#8c8c8c" stroke-width="1"/>
<text transform="translate(551.90,161.80) scale(1.07,1)" font-size="10" font-weight="bold" text-anchor="middle" fill="#111" stroke="#111" stroke-width="0.2" font-family="Liberation Sans, sans-serif">4</text>
<line x1="573.30" y1="147.60" x2="573.30" y2="145.20" stroke="#8c8c8c" stroke-width="1"/>
<text transform="translate(572.90,161.80) scale(1.07,1)" font-size="10" font-weight="bold" text-anchor="middle" fill="#111" stroke="#111" stroke-width="0.2" font-family="Liberation Sans, sans-serif">6</text>
<line x1="594.30" y1="147.60" x2="594.30" y2="145.20" stroke="#8c8c8c" stroke-width="1"/>
<text transform="translate(593.90,161.80) scale(1.07,1)" font-size="10" font-weight="bold" text-anchor="middle" fill="#111" stroke="#111" stroke-width="0.2" font-family="Liberation Sans, sans-serif">8</text>
<line x1="615.30" y1="147.60" x2="615.30" y2="145.20" stroke="#8c8c8c" stroke-width="1"/>
<text transform="translate(614.90,161.80) scale(1.07,1)" font-size="10" font-weight="bold" text-anchor="middle" fill="#111" stroke="#111" stroke-width="0.2" font-family="Liberation Sans, sans-serif">10</text>
<line x1="636.30" y1="147.60" x2="636.30" y2="145.20" stroke="#8c8c8c" stroke-width="1"/>
<text transform="translate(635.90,161.80) scale(1.07,1)" font-size="10" font-weight="bold" text-anchor="middle" fill="#111" stroke="#111" stroke-width="0.2" font-family="Liberation Sans, sans-serif">12</text>
<line x1="657.30" y1="147.60" x2="657.30" y2="145.20" stroke="#8c8c8c" stroke-width="1"/>
<text transform="translate(656.90,161.80) scale(1.07,1)" font-size="10" font-weight="bold" text-anchor="middle" fill="#111" stroke="#111" stroke-width="0.2" font-family="Liberation Sans, sans-serif">14</text>
<line x1="678.30" y1="147.60" x2="678.30" y2="145.20" stroke="#8c8c8c" stroke-width="1"/>
<text transform="translate(677.90,161.80) scale(1.07,1)" font-size="10" font-weight="bold" text-anchor="middle" fill="#111" stroke="#111" stroke-width="0.2" font-family="Liberation Sans, sans-serif">16</text>
<line x1="505.00" y1="23.40" x2="546.00" y2="23.40" stroke="#444" stroke-width="0.9" stroke-dasharray="2.2,2.6"/>
<line x1="505.00" y1="136.90" x2="592.00" y2="136.90" stroke="#444" stroke-width="0.9" stroke-dasharray="2.2,2.6"/>
<text x="593.40" y="179.60" font-size="10.8" text-anchor="middle" fill="#1a1a1a" stroke="#1a1a1a" stroke-width="0.3" font-family="Liberation Sans, sans-serif">Migration coordinate</text>
<text transform="translate(468.30,78.40) rotate(-90)" font-size="11.1" text-anchor="middle" fill="#1a1a1a" stroke="#1a1a1a" stroke-width="0.3" font-family="Liberation Sans, sans-serif">Energy (meV)</text>
<line x1="520.70" y1="24.80" x2="520.70" y2="68.00" stroke="#7c7c7c" stroke-width="1.2"/>
<line x1="520.70" y1="87.80" x2="520.70" y2="133.70" stroke="#7c7c7c" stroke-width="1.2"/>
<path d="M520.70,136.10 l-1.6,-3.6 l3.2,0 z" fill="#111"/>
<circle cx="510.30" cy="22.60" r="4.1" fill="url(#gOr)"/>
<path d="M520.80,21.70 L524.30,28.00 L517.30,28.00 Z" fill="#900000" stroke="#e01818" stroke-width="1.40" stroke-linejoin="miter"/>
<path d="M531.30,30.10 L534.80,36.40 L527.80,36.40 Z" fill="#fff4f4" stroke="#e01818" stroke-width="1.40" stroke-linejoin="miter"/>
<path d="M541.80,44.90 L545.30,51.20 L538.30,51.20 Z" fill="#fff4f4" stroke="#e01818" stroke-width="1.40" stroke-linejoin="miter"/>
<path d="M552.30,64.80 L555.80,71.10 L548.80,71.10 Z" fill="#fff4f4" stroke="#e01818" stroke-width="1.40" stroke-linejoin="miter"/>
<path d="M562.80,89.20 L566.30,95.50 L559.30,95.50 Z" fill="#fff4f4" stroke="#e01818" stroke-width="1.40" stroke-linejoin="miter"/>
<path d="M573.30,112.60 L576.80,118.90 L569.80,118.90 Z" fill="#fff4f4" stroke="#e01818" stroke-width="1.40" stroke-linejoin="miter"/>
<path d="M583.80,128.30 L587.30,134.60 L580.30,134.60 Z" fill="#fff4f4" stroke="#e01818" stroke-width="1.40" stroke-linejoin="miter"/>
<circle cx="594.30" cy="136.00" r="4.1" fill="url(#gGr)"/>
<path d="M604.80,132.30 L608.30,138.60 L601.30,138.60 Z" fill="#fff4f4" stroke="#e01818" stroke-width="1.40" stroke-linejoin="miter"/>
<path d="M615.30,121.50 L618.80,127.80 L611.80,127.80 Z" fill="#fff4f4" stroke="#e01818" stroke-width="1.40" stroke-linejoin="miter"/>
<path d="M625.80,104.00 L629.30,110.30 L622.30,110.30 Z" fill="#fff4f4" stroke="#e01818" stroke-width="1.40" stroke-linejoin="miter"/>
<path d="M636.30,86.70 L639.80,93.00 L632.80,93.00 Z" fill="#fff4f4" stroke="#e01818" stroke-width="1.40" stroke-linejoin="miter"/>
<path d="M646.80,73.40 L650.30,79.70 L643.30,79.70 Z" fill="#fff4f4" stroke="#e01818" stroke-width="1.40" stroke-linejoin="miter"/>
<path d="M657.30,66.20 L660.80,72.50 L653.80,72.50 Z" fill="#fff4f4" stroke="#e01818" stroke-width="1.40" stroke-linejoin="miter"/>
<path d="M667.80,64.00 L671.30,70.30 L664.30,70.30 Z" fill="#fff4f4" stroke="#e01818" stroke-width="1.40" stroke-linejoin="miter"/>
<circle cx="678.30" cy="66.20" r="4.1" fill="url(#gOr)"/>
<path d="M510.30,22.60 C513.80,23.60 517.30,23.70 520.80,25.60 C524.30,27.50 527.80,30.13 531.30,34.00 C534.80,37.87 538.30,43.02 541.80,48.80 C545.30,54.58 548.80,61.32 552.30,68.70 C555.80,76.08 559.30,85.13 562.80,93.10 C566.30,101.07 569.80,109.98 573.30,116.50 C576.80,123.02 580.30,128.95 583.80,132.20 C587.30,135.45 590.80,135.33 594.30,136.00 C597.80,136.67 601.30,137.97 604.80,136.20 C608.30,134.43 611.80,130.12 615.30,125.40 C618.80,120.68 622.30,113.70 625.80,107.90 C629.30,102.10 632.80,95.70 636.30,90.60 C639.80,85.50 643.30,80.72 646.80,77.30 C650.30,73.88 653.80,71.67 657.30,70.10 C660.80,68.53 664.30,68.55 667.80,67.90 C671.30,67.25 674.80,66.77 678.30,66.20" fill="none" stroke="#141414" stroke-width="1.35"/>
<text x="650.00" y="41.60" font-size="14.3" font-weight="bold" fill="#dc1428" font-family="Liberation Sans, sans-serif">P3</text>
<text x="507.50" y="84.40" font-size="10.8" font-weight="bold" fill="#2424d8" font-family="Liberation Sans, sans-serif">250 meV</text>
<rect x="264.90" y="212.50" width="176.60" height="127.60" fill="none" stroke="#8c8c8c" stroke-width="1.5"/>
<line x1="264.90" y1="329.60" x2="267.50" y2="329.60" stroke="#8c8c8c" stroke-width="1"/>
<text transform="translate(259.10,333.00) scale(1.07,1)" font-size="10" font-weight="bold" text-anchor="end" fill="#111" stroke="#111" stroke-width="0.2" font-family="Liberation Sans, sans-serif">0</text>
<line x1="264.90" y1="318.90" x2="266.50" y2="318.90" stroke="#8c8c8c" stroke-width="1"/>
<line x1="264.90" y1="308.20" x2="267.50" y2="308.20" stroke="#8c8c8c" stroke-width="1"/>
<text transform="translate(259.10,311.60) scale(1.07,1)" font-size="10" font-weight="bold" text-anchor="end" fill="#111" stroke="#111" stroke-width="0.2" font-family="Liberation Sans, sans-serif">50</text>
<line x1="264.90" y1="297.50" x2="266.50" y2="297.50" stroke="#8c8c8c" stroke-width="1"/>
<line x1="264.90" y1="286.80" x2="267.50" y2="286.80" stroke="#8c8c8c" stroke-width="1"/>
<text transform="translate(259.10,290.20) scale(1.07,1)" font-size="10" font-weight="bold" text-anchor="end" fill="#111" stroke="#111" stroke-width="0.2" font-family="Liberation Sans, sans-serif">100</text>
<line x1="264.90" y1="276.10" x2="266.50" y2="276.10" stroke="#8c8c8c" stroke-width="1"/>
<line x1="264.90" y1="265.40" x2="267.50" y2="265.40" stroke="#8c8c8c" stroke-width="1"/>
<text transform="translate(259.10,268.80) scale(1.07,1)" font-size="10" font-weight="bold" text-anchor="end" fill="#111" stroke="#111" stroke-width="0.2" font-family="Liberation Sans, sans-serif">150</text>
<line x1="264.90" y1="254.70" x2="266.50" y2="254.70" stroke="#8c8c8c" stroke-width="1"/>
<line x1="264.90" y1="244.00" x2="267.50" y2="244.00" stroke="#8c8c8c" stroke-width="1"/>
<text transform="translate(259.10,247.40) scale(1.07,1)" font-size="10" font-weight="bold" text-anchor="end" fill="#111" stroke="#111" stroke-width="0.2" font-family="Liberation Sans, sans-serif">200</text>
<line x1="264.90" y1="233.30" x2="266.50" y2="233.30" stroke="#8c8c8c" stroke-width="1"/>
<line x1="264.90" y1="222.60" x2="267.50" y2="222.60" stroke="#8c8c8c" stroke-width="1"/>
<text transform="translate(259.10,226.00) scale(1.07,1)" font-size="10" font-weight="bold" text-anchor="end" fill="#111" stroke="#111" stroke-width="0.2" font-family="Liberation Sans, sans-serif">250</text>
<line x1="270.30" y1="340.10" x2="270.30" y2="337.70" stroke="#8c8c8c" stroke-width="1"/>
<text transform="translate(269.90,351.80) scale(1.07,1)" font-size="10" font-weight="bold" text-anchor="middle" fill="#111" stroke="#111" stroke-width="0.2" font-family="Liberation Sans, sans-serif">0</text>
<line x1="291.08" y1="340.10" x2="291.08" y2="337.70" stroke="#8c8c8c" stroke-width="1"/>
<text transform="translate(290.68,351.80) scale(1.07,1)" font-size="10" font-weight="bold" text-anchor="middle" fill="#111" stroke="#111" stroke-width="0.2" font-family="Liberation Sans, sans-serif">2</text>
<line x1="311.86" y1="340.10" x2="311.86" y2="337.70" stroke="#8c8c8c" stroke-width="1"/>
<text transform="translate(311.46,351.80) scale(1.07,1)" font-size="10" font-weight="bold" text-anchor="middle" fill="#111" stroke="#111" stroke-width="0.2" font-family="Liberation Sans, sans-serif">4</text>
<line x1="332.64" y1="340.10" x2="332.64" y2="337.70" stroke="#8c8c8c" stroke-width="1"/>
<text transform="translate(332.24,351.80) scale(1.07,1)" font-size="10" font-weight="bold" text-anchor="middle" fill="#111" stroke="#111" stroke-width="0.2" font-family="Liberation Sans, sans-serif">6</text>
<line x1="353.42" y1="340.10" x2="353.42" y2="337.70" stroke="#8c8c8c" stroke-width="1"/>
<text transform="translate(353.02,351.80) scale(1.07,1)" font-size="10" font-weight="bold" text-anchor="middle" fill="#111" stroke="#111" stroke-width="0.2" font-family="Liberation Sans, sans-serif">8</text>
<line x1="374.20" y1="340.10" x2="374.20" y2="337.70" stroke="#8c8c8c" stroke-width="1"/>
<text transform="translate(373.80,351.80) scale(1.07,1)" font-size="10" font-weight="bold" text-anchor="middle" fill="#111" stroke="#111" stroke-width="0.2" font-family="Liberation Sans, sans-serif">10</text>
<line x1="394.98" y1="340.10" x2="394.98" y2="337.70" stroke="#8c8c8c" stroke-width="1"/>
<text transform="translate(394.58,351.80) scale(1.07,1)" font-size="10" font-weight="bold" text-anchor="middle" fill="#111" stroke="#111" stroke-width="0.2" font-family="Liberation Sans, sans-serif">12</text>
<line x1="415.76" y1="340.10" x2="415.76" y2="337.70" stroke="#8c8c8c" stroke-width="1"/>
<text transform="translate(415.36,351.80) scale(1.07,1)" font-size="10" font-weight="bold" text-anchor="middle" fill="#111" stroke="#111" stroke-width="0.2" font-family="Liberation Sans, sans-serif">14</text>
<line x1="436.54" y1="340.10" x2="436.54" y2="337.70" stroke="#8c8c8c" stroke-width="1"/>
<text transform="translate(436.14,351.80) scale(1.07,1)" font-size="10" font-weight="bold" text-anchor="middle" fill="#111" stroke="#111" stroke-width="0.2" font-family="Liberation Sans, sans-serif">16</text>
<line x1="292.00" y1="249.10" x2="332.00" y2="249.10" stroke="#444" stroke-width="0.9" stroke-dasharray="2.2,2.6"/>
<line x1="281.00" y1="330.30" x2="437.00" y2="330.30" stroke="#444" stroke-width="0.9" stroke-dasharray="2.2,2.6"/>
<text x="353.00" y="364.40" font-size="10.8" text-anchor="middle" fill="#1a1a1a" stroke="#1a1a1a" stroke-width="0.3" font-family="Liberation Sans, sans-serif">Migration coordinate</text>
<text transform="translate(230.00,269.90) rotate(-90)" font-size="10.1" text-anchor="middle" fill="#1a1a1a" stroke="#1a1a1a" stroke-width="0.3" font-family="Liberation Sans, sans-serif">Energy (meV)</text>
<line x1="311.80" y1="250.50" x2="311.80" y2="283.30" stroke="#7c7c7c" stroke-width="1.2"/>
<line x1="311.80" y1="299.20" x2="311.80" y2="326.60" stroke="#7c7c7c" stroke-width="1.2"/>
<path d="M311.80,329.00 l-1.6,-3.6 l3.2,0 z" fill="#111"/>
<circle cx="270.30" cy="280.00" r="4.1" fill="url(#gOr)"/>
<path d="M280.69,272.70 L283.39,277.70 L277.99,277.70 Z" fill="#fff4f4" stroke="#e01818" stroke-width="1.25" stroke-linejoin="miter"/>
<path d="M291.08,261.30 L293.78,266.30 L288.38,266.30 Z" fill="#fff4f4" stroke="#e01818" stroke-width="1.25" stroke-linejoin="miter"/>
<path d="M301.47,250.80 L304.17,255.80 L298.77,255.80 Z" fill="#fff4f4" stroke="#e01818" stroke-width="1.25" stroke-linejoin="miter"/>
<path d="M311.86,246.90 L314.56,251.90 L309.16,251.90 Z" fill="#fff4f4" stroke="#e01818" stroke-width="1.25" stroke-linejoin="miter"/>
<path d="M322.25,250.10 L324.95,255.10 L319.55,255.10 Z" fill="#fff4f4" stroke="#e01818" stroke-width="1.25" stroke-linejoin="miter"/>
<path d="M332.64,261.10 L335.34,266.10 L329.94,266.10 Z" fill="#fff4f4" stroke="#e01818" stroke-width="1.25" stroke-linejoin="miter"/>
<path d="M343.03,273.20 L345.73,278.20 L340.33,278.20 Z" fill="#fff4f4" stroke="#e01818" stroke-width="1.25" stroke-linejoin="miter"/>
<circle cx="353.42" cy="283.80" r="4.1" fill="url(#gGr)"/>
<path d="M363.81,283.80 L366.51,288.80 L361.11,288.80 Z" fill="#fff4f4" stroke="#e01818" stroke-width="1.25" stroke-linejoin="miter"/>
<path d="M374.20,278.80 L376.90,283.80 L371.50,283.80 Z" fill="#fff4f4" stroke="#e01818" stroke-width="1.25" stroke-linejoin="miter"/>
<path d="M384.59,275.90 L387.29,280.90 L381.89,280.90 Z" fill="#fff4f4" stroke="#e01818" stroke-width="1.25" stroke-linejoin="miter"/>
<path d="M394.98,280.70 L397.68,285.70 L392.28,285.70 Z" fill="#fff4f4" stroke="#e01818" stroke-width="1.25" stroke-linejoin="miter"/>
<path d="M405.37,293.50 L408.07,298.50 L402.67,298.50 Z" fill="#fff4f4" stroke="#e01818" stroke-width="1.25" stroke-linejoin="miter"/>
<path d="M415.76,310.60 L418.46,315.60 L413.06,315.60 Z" fill="#fff4f4" stroke="#e01818" stroke-width="1.25" stroke-linejoin="miter"/>
<path d="M426.15,323.70 L428.85,328.70 L423.45,328.70 Z" fill="#fff4f4" stroke="#e01818" stroke-width="1.25" stroke-linejoin="miter"/>
<circle cx="436.54" cy="329.20" r="4.1" fill="url(#gOr)"/>
<path d="M270.30,280.00 C273.76,278.63 277.23,278.48 280.69,275.90 C284.15,273.32 287.62,268.15 291.08,264.50 C294.54,260.85 298.01,256.40 301.47,254.00 C304.93,251.60 308.40,250.22 311.86,250.10 C315.32,249.98 318.79,250.93 322.25,253.30 C325.71,255.67 329.18,260.45 332.64,264.30 C336.10,268.15 339.57,273.15 343.03,276.40 C346.49,279.65 349.96,282.03 353.42,283.80 C356.88,285.57 360.35,287.30 363.81,287.00 C367.27,286.70 370.74,283.32 374.20,282.00 C377.66,280.68 381.13,278.78 384.59,279.10 C388.05,279.42 391.52,280.97 394.98,283.90 C398.44,286.83 401.91,291.72 405.37,296.70 C408.83,301.68 412.30,308.77 415.76,313.80 C419.22,318.83 422.69,324.33 426.15,326.90 C429.61,329.47 433.08,328.43 436.54,329.20" fill="none" stroke="#141414" stroke-width="1.35"/>
<text x="409.00" y="239.90" font-size="14.3" font-weight="bold" fill="#dc1428" font-family="Liberation Sans, sans-serif">P2</text>
<text x="292.00" y="293.30" font-size="10.8" font-weight="bold" fill="#2424d8" font-family="Liberation Sans, sans-serif">190 meV</text>
<rect x="504.70" y="212.60" width="177.20" height="127.60" fill="none" stroke="#8c8c8c" stroke-width="1.5"/>
<line x1="504.70" y1="329.70" x2="507.30" y2="329.70" stroke="#8c8c8c" stroke-width="1"/>
<text transform="translate(498.90,333.10) scale(1.07,1)" font-size="10" font-weight="bold" text-anchor="end" fill="#111" stroke="#111" stroke-width="0.2" font-family="Liberation Sans, sans-serif">0</text>
<line x1="504.70" y1="319.00" x2="506.30" y2="319.00" stroke="#8c8c8c" stroke-width="1"/>
<line x1="504.70" y1="308.30" x2="507.30" y2="308.30" stroke="#8c8c8c" stroke-width="1"/>
<text transform="translate(498.90,311.70) scale(1.07,1)" font-size="10" font-weight="bold" text-anchor="end" fill="#111" stroke="#111" stroke-width="0.2" font-family="Liberation Sans, sans-serif">50</text>
<line x1="504.70" y1="297.60" x2="506.30" y2="297.60" stroke="#8c8c8c" stroke-width="1"/>
<line x1="504.70" y1="286.90" x2="507.30" y2="286.90" stroke="#8c8c8c" stroke-width="1"/>
<text transform="translate(498.90,290.30) scale(1.07,1)" font-size="10" font-weight="bold" text-anchor="end" fill="#111" stroke="#111" stroke-width="0.2" font-family="Liberation Sans, sans-serif">100</text>
<line x1="504.70" y1="276.20" x2="506.30" y2="276.20" stroke="#8c8c8c" stroke-width="1"/>
<line x1="504.70" y1="265.50" x2="507.30" y2="265.50" stroke="#8c8c8c" stroke-width="1"/>
<text transform="translate(498.90,268.90) scale(1.07,1)" font-size="10" font-weight="bold" text-anchor="end" fill="#111" stroke="#111" stroke-width="0.2" font-family="Liberation Sans, sans-serif">150</text>
<line x1="504.70" y1="254.80" x2="506.30" y2="254.80" stroke="#8c8c8c" stroke-width="1"/>
<line x1="504.70" y1="244.10" x2="507.30" y2="244.10" stroke="#8c8c8c" stroke-width="1"/>
<text transform="translate(498.90,247.50) scale(1.07,1)" font-size="10" font-weight="bold" text-anchor="end" fill="#111" stroke="#111" stroke-width="0.2" font-family="Liberation Sans, sans-serif">200</text>
<line x1="504.70" y1="233.40" x2="506.30" y2="233.40" stroke="#8c8c8c" stroke-width="1"/>
<line x1="504.70" y1="222.70" x2="507.30" y2="222.70" stroke="#8c8c8c" stroke-width="1"/>
<text transform="translate(498.90,226.10) scale(1.07,1)" font-size="10" font-weight="bold" text-anchor="end" fill="#111" stroke="#111" stroke-width="0.2" font-family="Liberation Sans, sans-serif">250</text>
<line x1="510.30" y1="340.20" x2="510.30" y2="337.80" stroke="#8c8c8c" stroke-width="1"/>
<text transform="translate(509.90,351.90) scale(1.07,1)" font-size="10" font-weight="bold" text-anchor="middle" fill="#111" stroke="#111" stroke-width="0.2" font-family="Liberation Sans, sans-serif">0</text>
<line x1="531.16" y1="340.20" x2="531.16" y2="337.80" stroke="#8c8c8c" stroke-width="1"/>
<text transform="translate(530.76,351.90) scale(1.07,1)" font-size="10" font-weight="bold" text-anchor="middle" fill="#111" stroke="#111" stroke-width="0.2" font-family="Liberation Sans, sans-serif">2</text>
<line x1="552.02" y1="340.20" x2="552.02" y2="337.80" stroke="#8c8c8c" stroke-width="1"/>
<text transform="translate(551.62,351.90) scale(1.07,1)" font-size="10" font-weight="bold" text-anchor="middle" fill="#111" stroke="#111" stroke-width="0.2" font-family="Liberation Sans, sans-serif">4</text>
<line x1="572.88" y1="340.20" x2="572.88" y2="337.80" stroke="#8c8c8c" stroke-width="1"/>
<text transform="translate(572.48,351.90) scale(1.07,1)" font-size="10" font-weight="bold" text-anchor="middle" fill="#111" stroke="#111" stroke-width="0.2" font-family="Liberation Sans, sans-serif">6</text>
<line x1="593.74" y1="340.20" x2="593.74" y2="337.80" stroke="#8c8c8c" stroke-width="1"/>
<text transform="translate(593.34,351.90) scale(1.07,1)" font-size="10" font-weight="bold" text-anchor="middle" fill="#111" stroke="#111" stroke-width="0.2" font-family="Liberation Sans, sans-serif">8</text>
<line x1="614.60" y1="340.20" x2="614.60" y2="337.80" stroke="#8c8c8c" stroke-width="1"/>
<text transform="translate(614.20,351.90) scale(1.07,1)" font-size="10" font-weight="bold" text-anchor="middle" fill="#111" stroke="#111" stroke-width="0.2" font-family="Liberation Sans, sans-serif">10</text>
<line x1="635.46" y1="340.20" x2="635.46" y2="337.80" stroke="#8c8c8c" stroke-width="1"/>
<text transform="translate(635.06,351.90) scale(1.07,1)" font-size="10" font-weight="bold" text-anchor="middle" fill="#111" stroke="#111" stroke-width="0.2" font-family="Liberation Sans, sans-serif">12</text>
<line x1="656.32" y1="340.20" x2="656.32" y2="337.80" stroke="#8c8c8c" stroke-width="1"/>
<text transform="translate(655.92,351.90) scale(1.07,1)" font-size="10" font-weight="bold" text-anchor="middle" fill="#111" stroke="#111" stroke-width="0.2" font-family="Liberation Sans, sans-serif">14</text>
<line x1="677.18" y1="340.20" x2="677.18" y2="337.80" stroke="#8c8c8c" stroke-width="1"/>
<text transform="translate(676.78,351.90) scale(1.07,1)" font-size="10" font-weight="bold" text-anchor="middle" fill="#111" stroke="#111" stroke-width="0.2" font-family="Liberation Sans, sans-serif">16</text>
<line x1="505.00" y1="237.20" x2="550.00" y2="237.20" stroke="#444" stroke-width="0.9" stroke-dasharray="2.2,2.6"/>
<line x1="505.00" y1="329.90" x2="592.00" y2="329.90" stroke="#444" stroke-width="0.9" stroke-dasharray="2.2,2.6"/>
<text x="593.00" y="364.40" font-size="10.8" text-anchor="middle" fill="#1a1a1a" stroke="#1a1a1a" stroke-width="0.3" font-family="Liberation Sans, sans-serif">Migration coordinate</text>
<text transform="translate(468.40,273.40) rotate(-90)" font-size="10.2" text-anchor="middle" fill="#1a1a1a" stroke="#1a1a1a" stroke-width="0.3" font-family="Liberation Sans, sans-serif">Energy (meV)</text>
<line x1="531.30" y1="239.50" x2="531.30" y2="272.00" stroke="#7c7c7c" stroke-width="1.2"/>
<line x1="531.30" y1="296.30" x2="531.30" y2="326.70" stroke="#7c7c7c" stroke-width="1.2"/>
<path d="M531.30,329.10 l-1.6,-3.6 l3.2,0 z" fill="#111"/>
<circle cx="510.30" cy="238.30" r="4.1" fill="url(#gOr)"/>
<path d="M520.73,234.40 L523.43,239.40 L518.03,239.40 Z" fill="#fff4f4" stroke="#e01818" stroke-width="1.25" stroke-linejoin="miter"/>
<path d="M531.16,235.50 L533.86,240.50 L528.46,240.50 Z" fill="#fff4f4" stroke="#e01818" stroke-width="1.25" stroke-linejoin="miter"/>
<path d="M541.59,243.80 L544.29,248.80 L538.89,248.80 Z" fill="#fff4f4" stroke="#e01818" stroke-width="1.25" stroke-linejoin="miter"/>
<path d="M552.02,259.40 L554.72,264.40 L549.32,264.40 Z" fill="#fff4f4" stroke="#e01818" stroke-width="1.25" stroke-linejoin="miter"/>
<path d="M562.45,280.70 L565.15,285.70 L559.75,285.70 Z" fill="#fff4f4" stroke="#e01818" stroke-width="1.25" stroke-linejoin="miter"/>
<path d="M572.88,303.70 L575.58,308.70 L570.18,308.70 Z" fill="#fff4f4" stroke="#e01818" stroke-width="1.25" stroke-linejoin="miter"/>
<path d="M583.31,320.50 L586.01,325.50 L580.61,325.50 Z" fill="#fff4f4" stroke="#e01818" stroke-width="1.25" stroke-linejoin="miter"/>
<circle cx="593.74" cy="329.50" r="4.1" fill="url(#gGr)"/>
<path d="M604.17,320.70 L606.87,325.70 L601.47,325.70 Z" fill="#fff4f4" stroke="#e01818" stroke-width="1.25" stroke-linejoin="miter"/>
<path d="M614.60,308.00 L617.30,313.00 L611.90,313.00 Z" fill="#fff4f4" stroke="#e01818" stroke-width="1.25" stroke-linejoin="miter"/>
<path d="M625.03,294.80 L627.73,299.80 L622.33,299.80 Z" fill="#fff4f4" stroke="#e01818" stroke-width="1.25" stroke-linejoin="miter"/>
<path d="M635.46,286.30 L638.16,291.30 L632.76,291.30 Z" fill="#fff4f4" stroke="#e01818" stroke-width="1.25" stroke-linejoin="miter"/>
<path d="M645.89,284.80 L648.59,289.80 L643.19,289.80 Z" fill="#fff4f4" stroke="#e01818" stroke-width="1.25" stroke-linejoin="miter"/>
<path d="M656.32,290.10 L659.02,295.10 L653.62,295.10 Z" fill="#fff4f4" stroke="#e01818" stroke-width="1.25" stroke-linejoin="miter"/>
<path d="M666.75,297.70 L669.45,302.70 L664.05,302.70 Z" fill="#fff4f4" stroke="#e01818" stroke-width="1.25" stroke-linejoin="miter"/>
<circle cx="677.18" cy="302.40" r="4.1" fill="url(#gOr)"/>
<path d="M510.30,238.30 C513.78,238.07 517.25,237.53 520.73,237.60 C524.21,237.67 527.68,237.13 531.16,238.70 C534.64,240.27 538.11,243.02 541.59,247.00 C545.07,250.98 548.54,256.45 552.02,262.60 C555.50,268.75 558.97,276.52 562.45,283.90 C565.93,291.28 569.40,300.27 572.88,306.90 C576.36,313.53 579.83,319.93 583.31,323.70 C586.79,327.47 590.26,329.47 593.74,329.50 C597.22,329.53 600.69,326.95 604.17,323.90 C607.65,320.85 611.12,315.52 614.60,311.20 C618.08,306.88 621.55,301.62 625.03,298.00 C628.51,294.38 631.98,291.17 635.46,289.50 C638.94,287.83 642.41,287.37 645.89,288.00 C649.37,288.63 652.84,291.15 656.32,293.30 C659.80,295.45 663.27,299.38 666.75,300.90 C670.23,302.42 673.70,301.90 677.18,302.40" fill="none" stroke="#141414" stroke-width="1.35"/>
<text x="649.20" y="240.80" font-size="14.3" font-weight="bold" fill="#dc1428" font-family="Liberation Sans, sans-serif">P3</text>
<text x="511.00" y="288.20" font-size="10.8" font-weight="bold" fill="#2424d8" font-family="Liberation Sans, sans-serif">220 meV</text>
<text x="220.00" y="12.70" font-size="15.5" font-weight="bold" fill="#111" font-family="Liberation Sans, sans-serif">b</text>
<text x="460.20" y="12.20" font-size="15.5" font-weight="bold" fill="#111" font-family="Liberation Sans, sans-serif">c</text>
<text x="220.00" y="212.20" font-size="15.5" font-weight="bold" fill="#111" font-family="Liberation Sans, sans-serif">e</text>
<text x="460.60" y="211.50" font-size="15.5" font-weight="bold" fill="#111" font-family="Liberation Sans, sans-serif">f</text>
</svg>
</body></html>
